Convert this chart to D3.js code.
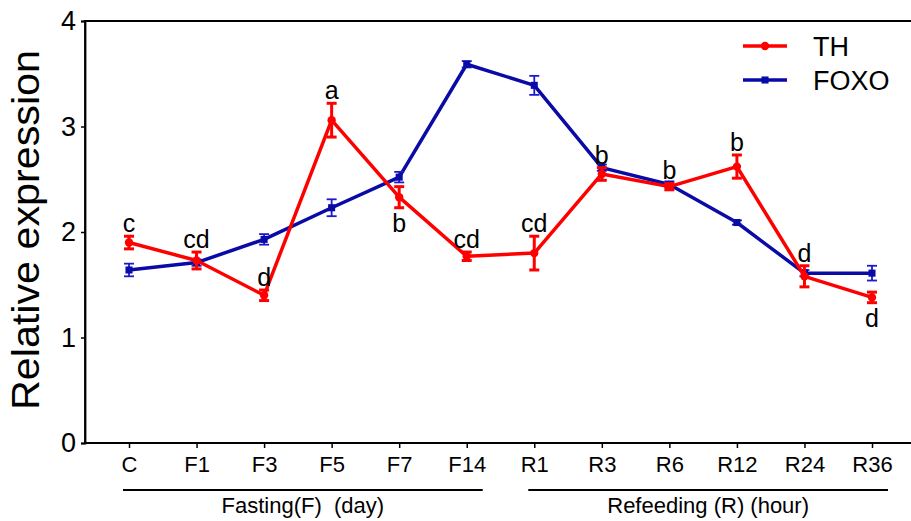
<!DOCTYPE html>
<html>
<head>
<meta charset="utf-8">
<script src="https://cdn.jsdelivr.net/npm/d3@7"></script>
<style>
  html, body { margin: 0; padding: 0; background: #fff; }
  svg { display: block; font-family: "Liberation Sans", Arial, sans-serif; }
</style>
</head>
<body>
<div id="chart"></div>
<script>
// data
const categories = ["C", "F1", "F3", "F5", "F7", "F14", "R1", "R3", "R6", "R12", "R24", "R36"];
const thMean = [1.90, 1.73, 1.40, 3.06, 2.33, 1.77, 1.80, 2.55, 2.43, 2.62, 1.58, 1.38];
const thErr = [0.06, 0.08, 0.05, 0.16, 0.10, 0.04, 0.16, 0.06, 0.03, 0.11, 0.10, 0.05];
const foxoMean = [1.64, 1.71, 1.93, 2.23, 2.52, 3.59, 3.39, 2.61, 2.45, 2.09, 1.61, 1.61];
const foxoErr = [0.06, 0.03, 0.05, 0.08, 0.05, 0.03, 0.09, 0.03, 0.03, 0.02, 0.03, 0.07];
const letters = ["c", "cd", "d", "a", "b", "cd", "cd", "b", "b", "b", "d", "d"];
const letterBelow = [false, false, false, false, true, false, false, false, false, false, false, true];
const yTicks = [0, 1, 2, 3, 4];
const groups = [
  { label: "Fasting(F)  (day)", first: "C", last: "F14" },
  { label: "Refeeding (R) (hour)", first: "R1", last: "R36" }
];

const w = 911, h = 521;
const padLeft = 85, padRight = 915, padTop = 21, padBot = 443;

const svg = d3.select("#chart").append("svg")
  .attr("width", w)
  .attr("height", h);

const x = d3.scalePoint()
  .domain(categories)
  .range([129, 872]);
const y = d3.scaleLinear()
  .domain([0, 4])
  .range([padBot, padTop]);

// frame (right side falls outside the picture)
svg.append("path")
  .attr("d", `M${padLeft},${padBot}V${padTop}H${padRight}`)
  .attr("fill", "none")
  .attr("stroke", "#000")
  .attr("stroke-width", 1.8);

// y axis
const yAxis = d3.axisLeft(y).tickValues(yTicks).tickFormat(d3.format("d")).tickSize(4).tickPadding(5);
const gy = svg.append("g")
  .attr("transform", `translate(${padLeft},0)`)
  .call(yAxis);
gy.select(".domain").attr("stroke-width", 1.8);
gy.selectAll(".tick line").attr("stroke-width", 1.5);
gy.selectAll(".tick text")
  .attr("font-size", 27)
  .attr("font-family", "Liberation Sans, Arial, sans-serif")
  .attr("fill", "#000");

// x axis
const xAxis = d3.axisBottom(x).tickSize(5).tickSizeOuter(0).tickPadding(8);
const gx = svg.append("g")
  .attr("transform", `translate(0,${padBot})`)
  .call(xAxis);
gx.select(".domain").attr("d", `M${padLeft},0H${padRight}`).attr("stroke-width", 1.8);
gx.selectAll(".tick line").attr("stroke-width", 1.5);
gx.selectAll(".tick text")
  .attr("font-size", 22)
  .attr("font-family", "Liberation Sans, Arial, sans-serif")
  .attr("fill", "#000");

// y title
svg.append("text")
  .text("Relative expression")
  .attr("transform", "translate(39,230) rotate(-90)")
  .attr("text-anchor", "middle")
  .attr("font-size", 38)
  .attr("textLength", 360)
  .attr("lengthAdjust", "spacingAndGlyphs");

// group brackets
groups.forEach(g => {
  const x0 = x(g.first) - 6, x1 = x(g.last) + 16;
  svg.append("line")
    .attr("x1", x0).attr("x2", x1)
    .attr("y1", 490).attr("y2", 490)
    .attr("stroke", "#000")
    .attr("stroke-width", 1.8);
  svg.append("text")
    .text(g.label)
    .attr("x", (x0 + x1) / 2)
    .attr("y", 513)
    .attr("text-anchor", "middle")
    .attr("font-size", 22)
    .style("white-space", "pre");
});

// series
function drawSeries(means, errs, color, barColor, lineW, barW, marker) {
  const pts = categories.map((c, i) => ({ c: c, m: means[i], e: errs[i] }));
  const line = d3.line().x(d => x(d.c)).y(d => y(d.m));
  svg.append("path")
    .datum(pts)
    .attr("d", line)
    .attr("fill", "none")
    .attr("stroke", color)
    .attr("stroke-width", lineW)
    .attr("stroke-linejoin", "round");
  const eb = svg.append("g").selectAll("g").data(pts).enter().append("g")
    .attr("stroke", barColor)
    .attr("stroke-width", barW);
  eb.append("line")
    .attr("x1", d => x(d.c)).attr("x2", d => x(d.c))
    .attr("y1", d => y(d.m - d.e)).attr("y2", d => y(d.m + d.e));
  eb.append("line")
    .attr("x1", d => x(d.c) - 5).attr("x2", d => x(d.c) + 5)
    .attr("y1", d => y(d.m + d.e)).attr("y2", d => y(d.m + d.e));
  eb.append("line")
    .attr("x1", d => x(d.c) - 5).attr("x2", d => x(d.c) + 5)
    .attr("y1", d => y(d.m - d.e)).attr("y2", d => y(d.m - d.e));
  const sym = d3.symbol().type(marker === "circle" ? d3.symbolCircle : d3.symbolSquare).size(marker === "circle" ? 55 : 50);
  svg.append("g").selectAll("path").data(pts).enter().append("path")
    .attr("d", sym)
    .attr("transform", d => `translate(${x(d.c)},${y(d.m)})`)
    .attr("fill", color);
}

drawSeries(foxoMean, foxoErr, "#0a0aa6", "#1a1ad0", 3.5, 1.8, "square");
drawSeries(thMean, thErr, "#ff0000", "#ff0000", 3.5, 3, "circle");

// significance letters
svg.append("g").selectAll("text")
  .data(categories)
  .enter()
  .append("text")
  .text((c, i) => letters[i])
  .attr("x", c => x(c))
  .attr("y", (c, i) => letterBelow[i] ? y(thMean[i] - thErr[i]) + 24 : y(thMean[i] + thErr[i]) - 4)
  .attr("text-anchor", "middle")
  .attr("font-size", 25);

// legend
const legendItems = [
  { name: "TH", color: "#ff0000", marker: d3.symbolCircle, size: 55, y: 46 },
  { name: "FOXO", color: "#0a0aa6", marker: d3.symbolSquare, size: 50, y: 80 }
];
const lg = svg.append("g").selectAll("g").data(legendItems).enter().append("g");
lg.append("line")
  .attr("x1", 743).attr("x2", 787)
  .attr("y1", d => d.y).attr("y2", d => d.y)
  .attr("stroke", d => d.color)
  .attr("stroke-width", 3.5);
lg.append("path")
  .attr("d", d => d3.symbol().type(d.marker).size(d.size)())
  .attr("transform", d => `translate(765,${d.y})`)
  .attr("fill", d => d.color);
lg.append("text")
  .text(d => d.name)
  .attr("x", 813)
  .attr("y", d => d.y + 10)
  .attr("font-size", 27);
</script>
</body>
</html>
